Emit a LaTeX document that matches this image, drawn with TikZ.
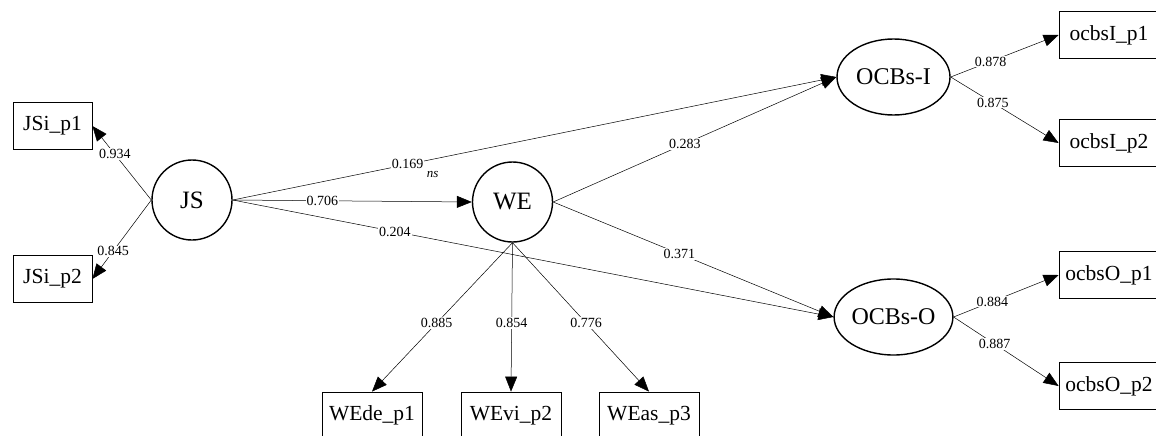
\documentclass[tikz,border=0pt]{standalone}
\usepackage{fontspec}
\setmainfont{Liberation Serif}
\usetikzlibrary{shapes.geometric,arrows.meta}

\tikzset{
  latent/.style={draw,circle,line width=1.4pt,minimum size=80pt,inner sep=0pt,font=\fontsize{25}{27}\selectfont},
  latentel/.style={draw,ellipse,line width=1.4pt,minimum width=113pt,minimum height=76pt,inner sep=0pt,font=\fontsize{24}{26}\selectfont},
  item/.style={draw,rectangle,line width=0.8pt,minimum width=100pt,minimum height=47pt,inner sep=0pt,font=\fontsize{21.5}{23}\selectfont},
  path/.style={line width=0.5pt,-{Triangle[length=15pt,width=12pt]}},
  lbl/.style={fill=white,inner sep=1pt,font=\fontsize{14}{16}\selectfont}
}

\begin{document}
\begin{tikzpicture}[x=1pt,y=-1pt]
\useasboundingbox (0,0) rectangle (1156,436);
\clip (0,0) rectangle (1156,436);

% latent variables
\node[latent] (JS) at (192,200) {JS};
\node[latent] (WE) at (512.5,202) {WE};
\node[latentel] (OCBI) at (893.5,77) {OCBs-I};
\node[latentel] (OCBO) at (893.5,317) {OCBs-O};

% indicators
\node[item,minimum width=79pt] (JSi1) at (52.5,126) {JSi\_p1};
\node[item,minimum width=79pt] (JSi2) at (52.5,279) {JSi\_p2};
\node[item] (WEde) at (372,415.5) {WEde\_p1};
\node[item] (WEvi) at (511,415.5) {WEvi\_p2};
\node[item] (WEas) at (649,415.5) {WEas\_p3};
\node[item] (oI1) at (1109,35) {ocbsI\_p1};
\node[item] (oI2) at (1109,143) {ocbsI\_p2};
\node[item] (oO1) at (1109,275) {ocbsO\_p1};
\node[item] (oO2) at (1109,386) {ocbsO\_p2};

% structural paths
\draw[path] (JS.east) -- node[lbl,pos=0.375] {0.706} (WE.west);
\draw[path] (JS.east) -- node[lbl,pos=0.29] (l169) {0.169} (OCBI.west);
\node[anchor=north west,inner sep=0pt,font=\fontsize{13}{15}\selectfont\itshape] (ns) at ([xshift=2pt,yshift=-1pt]l169.south east) {ns};
\draw[path] (JS.east) -- node[lbl,pos=0.27] {0.204} (OCBO.west);
\draw[path] (WE.east) -- node[lbl,pos=0.465] {0.283} (OCBI.west);
\draw[path] (WE.east) -- node[lbl,pos=0.45] {0.371} (OCBO.west);

% loadings
\draw[path] (JS.west) -- node[lbl,pos=0.62] {0.934} (JSi1.east);
\draw[path] (JS.west) -- node[lbl,pos=0.65] {0.845} (JSi2.east);
\draw[path] (WE.south) -- node[lbl,pos=0.54] {0.885} (WEde.north);
\draw[path] (WE.south) -- node[lbl,pos=0.54] {0.854} (WEvi.north);
\draw[path] (WE.south) -- node[lbl,pos=0.54] {0.776} (WEas.north);
\draw[path] (OCBI.east) -- node[lbl,pos=0.37] {0.878} (oI1.west);
\draw[path] (OCBI.east) -- node[lbl,pos=0.39] {0.875} (oI2.west);
\draw[path] (OCBO.east) -- node[lbl,pos=0.37] {0.884} (oO1.west);
\draw[path] (OCBO.east) -- node[lbl,pos=0.39] {0.887} (oO2.west);

\end{tikzpicture}
\end{document}
